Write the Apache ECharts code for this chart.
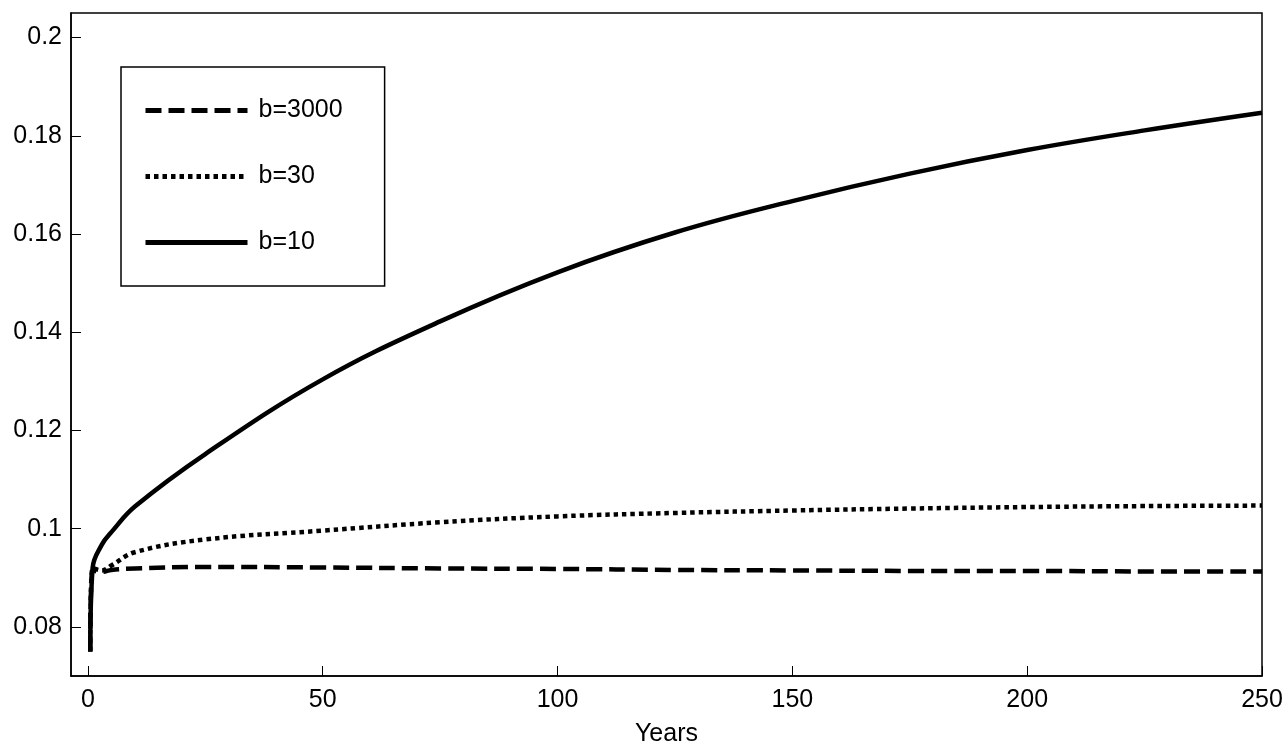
<!DOCTYPE html>
<html>
<head>
<meta charset="utf-8">
<script src="https://cdn.jsdelivr.net/npm/echarts@6/dist/echarts.min.js"></script>
</head>
<body style="margin:0">
<div id="my" style="width:1287px;height:746px;"></div>
<script>
var years = [0.5, 1, 3, 5, 10, 25, 50, 75, 100, 125, 150, 175, 200, 225, 250];
var b3000 = [0.075, 0.0915, 0.0912, 0.0916, 0.0919, 0.0922, 0.0921, 0.0919, 0.0918, 0.0916, 0.0915, 0.0914, 0.0914, 0.0913, 0.0913];
var b30 = [0.075, 0.092, 0.0915, 0.0925, 0.0952, 0.0978, 0.0996, 0.1013, 0.1025, 0.1032, 0.1037, 0.1041, 0.1044, 0.1046, 0.1047];
var b10 = [0.075, 0.092, 0.0968, 0.0993, 0.1045, 0.1152, 0.1304, 0.1422, 0.1522, 0.1603, 0.1667, 0.1723, 0.1771, 0.1811, 0.1847];
var xTicks = [0, 50, 100, 150, 200, 250];
var yTicks = [0.08, 0.1, 0.12, 0.14, 0.16, 0.18, 0.2];

function pts(v) { return years.map(function (x, i) { return [x, v[i]]; }); }

var myChart = echarts.init(document.getElementById('my'));
var font = 'Liberation Sans';
var tickStyle = { show: true, inside: true, length: 10, lineStyle: { color: '#000' } };
var lineAxis = { show: true, onZero: false, lineStyle: { color: '#000', width: 1.5 } };
myChart.setOption({
  animation: false,
  grid: { left: 71, right: 25, top: 13, bottom: 70, containLabel: false, outerBoundsMode: 'none' },
  xAxis: {
    type: 'value', min: -3.6, max: 250,
    name: 'Years', nameLocation: 'middle', nameGap: 46,
    nameTextStyle: { color: '#000', fontSize: 25, fontFamily: font },
    axisLine: lineAxis,
    axisTick: Object.assign({ customValues: xTicks }, tickStyle),
    axisLabel: { color: '#000', fontSize: 25, fontFamily: font, margin: 12, customValues: xTicks },
    splitLine: { show: false }
  },
  yAxis: {
    type: 'value', min: 0.07, max: 0.205,
    axisLine: lineAxis,
    axisTick: Object.assign({ customValues: yTicks }, tickStyle),
    axisLabel: { color: '#000', fontSize: 25, fontFamily: font, margin: 9, customValues: yTicks },
    splitLine: { show: false }
  },
  legend: {
    left: 121, top: 67, orient: 'vertical', itemGap: 41, padding: [31, 42, 31, 22],
    borderColor: '#000', borderWidth: 1.5, borderRadius: 0,
    itemWidth: 102, itemHeight: 12,
    itemStyle: { opacity: 0 },
    lineStyle: { width: 5 },
    textStyle: { color: '#000', fontSize: 25, fontFamily: font, padding: [0, 0, 0, 6] },
    data: ['b=3000', 'b=30', 'b=10']
  },
  series: [
    { name: 'b=3000', type: 'line', data: pts(b3000), symbol: 'none', smooth: 0.4,
      lineStyle: { color: '#000', width: 4.5, type: [16, 7] }, itemStyle: { color: '#000' } },
    { name: 'b=30', type: 'line', data: pts(b30), symbol: 'none', smooth: 0.4,
      lineStyle: { color: '#000', width: 4.5, type: [4.5, 4] }, itemStyle: { color: '#000' } },
    { name: 'b=10', type: 'line', data: pts(b10), symbol: 'none', smooth: 0.4,
      lineStyle: { color: '#000', width: 4.5 }, itemStyle: { color: '#000' } }
  ],
  graphic: [{ type: 'rect', shape: { x: 71, y: 13, width: 1191, height: 663 },
    style: { fill: 'none', stroke: '#000', lineWidth: 1.5 } }]
});
</script>
</body>
</html>
